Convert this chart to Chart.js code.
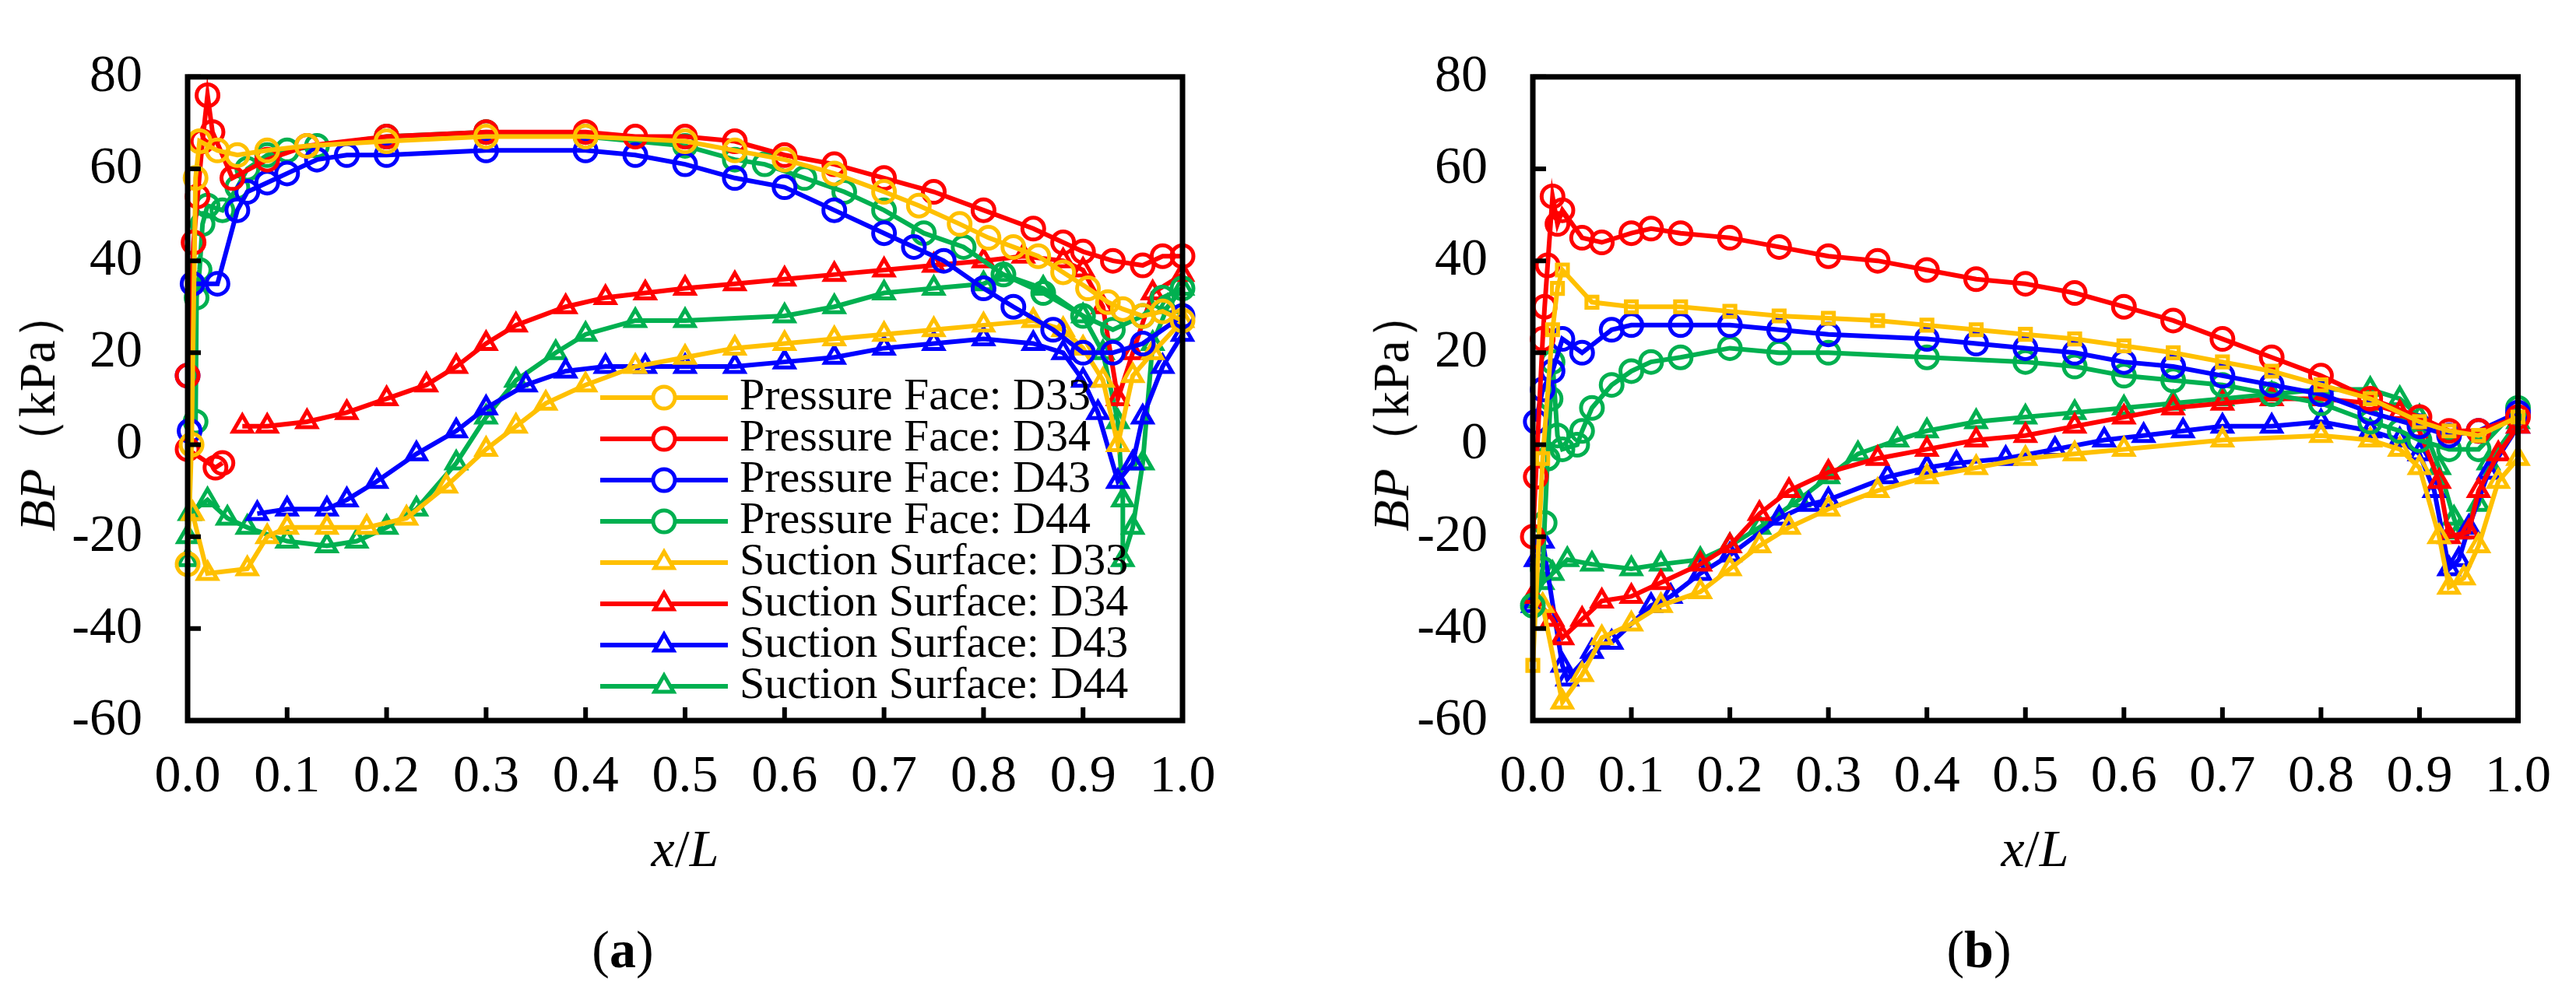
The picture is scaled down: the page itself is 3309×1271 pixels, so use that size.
<!DOCTYPE html>
<html>
<head>
<meta charset="utf-8">
<script src="https://cdn.jsdelivr.net/npm/chart.js@4/dist/chart.umd.min.js"></script>
<style>
  body { margin: 0; background: #fff; width: 3309px; height: 1271px; position: relative; overflow: hidden; font-family: "Times New Roman", "Liberation Serif", "DejaVu Serif", serif; }
  canvas { position: absolute; top: 0; }
  .lbl { position: absolute; font-size: 68px; color: #000; white-space: nowrap; transform: translate(-50%, -50%); }
  .ytitle { position: absolute; font-size: 66px; white-space: nowrap; transform: translate(-50%, -50%) rotate(-90deg); }
</style>
</head>
<body>
<canvas id="chartA" width="1660" height="1271" style="left:0"></canvas>
<canvas id="chartB" width="1649" height="1271" style="left:1660px"></canvas>

<div class="ytitle" style="left:48px; top:527px"><i>BP</i>（kPa）</div>
<div class="ytitle" style="left:1787px; top:527px"><i>BP</i>（kPa）</div>
<div class="lbl" style="left:880px; top:1090px"><i>x</i>/<i>L</i></div>
<div class="lbl" style="left:2614px; top:1090px"><i>x</i>/<i>L</i></div>
<div class="lbl" style="left:800px; top:1220px">(<b>a</b>)</div>
<div class="lbl" style="left:2542px; top:1220px">(<b>b</b>)</div>

<script>
const yTicks = [-60, -40, -20, 0, 20, 40, 60, 80];
const xTicks = [0, 0.1, 0.2, 0.3, 0.4, 0.5, 0.6, 0.7, 0.8, 0.9, 1.0];

const seriesNames = [
  'Pressure Face: D33', 'Pressure Face: D34', 'Pressure Face: D43', 'Pressure Face: D44',
  'Suction Surface: D33', 'Suction Surface: D34', 'Suction Surface: D43', 'Suction Surface: D44'
];
const seriesColors = ['#FFC000', '#FF0000', '#0000FF', '#00B050', '#FFC000', '#FF0000', '#0000FF', '#00B050'];

// panel (a): [x/L, BP]
const pfD33a = [[0,-26],[0.004,0],[0.008,58],[0.012,66],[0.03,64],[0.05,63],[0.08,64],[0.12,65],[0.2,66],[0.3,67],[0.4,67],[0.5,66],[0.55,64],[0.6,62],[0.65,59],[0.7,55],[0.735,52],[0.776,48],[0.805,45],[0.83,43],[0.855,41],[0.88,37.5],[0.905,34],[0.925,31],[0.94,29.5],[0.96,28],[0.98,29],[1.0,27]];
const pfD34a = [[0.035,-4],[0.028,-5],[0,-1],[0,15],[0.006,44],[0.01,54],[0.015,66],[0.02,76],[0.025,68],[0.045,58],[0.08,62],[0.12,65],[0.2,67],[0.3,68],[0.4,68],[0.45,67],[0.5,67],[0.55,66],[0.6,63],[0.65,61],[0.7,58],[0.75,55],[0.8,51],[0.85,47],[0.88,44],[0.9,42],[0.93,40],[0.96,39],[0.98,41],[1.0,41]];
const pfD43a = [[0,15],[0.002,3],[0.005,35],[0.03,35],[0.05,51],[0.06,55],[0.08,57],[0.1,59],[0.13,62],[0.16,63],[0.2,63],[0.3,64],[0.4,64],[0.45,63],[0.5,61],[0.55,58],[0.6,56],[0.65,51],[0.7,46],[0.73,43],[0.76,40],[0.8,34],[0.83,30],[0.87,25],[0.9,20],[0.93,20],[0.96,22],[1.0,28]];
const pfD44a = [[0.008,5],[0.009,32],[0.012,38],[0.015,48],[0.02,52],[0.035,51],[0.05,56],[0.06,60],[0.08,63],[0.1,64],[0.13,65],[0.2,67],[0.3,68],[0.4,67],[0.5,65],[0.55,62],[0.58,61],[0.62,58],[0.66,55],[0.7,51],[0.74,46],[0.78,43],[0.82,37],[0.86,33],[0.9,28],[0.93,25],[0.96,28],[0.98,32],[1.0,34]];
const ssD33a = [[0.005,-15],[0.02,-28],[0.06,-27],[0.08,-20],[0.1,-18],[0.14,-18],[0.18,-18],[0.22,-16],[0.26,-9],[0.3,-1],[0.33,4],[0.36,9],[0.4,13],[0.45,17],[0.5,19],[0.55,21],[0.6,22],[0.65,23],[0.7,24],[0.75,25],[0.8,26],[0.85,27],[0.88,25],[0.9,21],[0.92,14],[0.935,0],[0.95,15],[0.97,20],[1.0,27]];
const ssD34a = [[0.055,4],[0.08,4],[0.12,5],[0.16,7],[0.2,10],[0.24,13],[0.27,17],[0.3,22],[0.33,26],[0.38,30],[0.42,32],[0.46,33],[0.5,34],[0.55,35],[0.6,36],[0.65,37],[0.7,38],[0.75,39],[0.8,40],[0.84,41],[0.88,40],[0.9,38],[0.92,30],[0.935,10],[0.95,20],[0.97,33],[1.0,37]];
const ssD43a = [[0.07,-15],[0.1,-14],[0.14,-14],[0.16,-12],[0.19,-8],[0.23,-2],[0.27,3],[0.3,8],[0.34,13],[0.38,16],[0.42,17],[0.46,17],[0.5,17],[0.55,17],[0.6,18],[0.65,19],[0.7,21],[0.75,22],[0.8,23],[0.85,22],[0.88,20],[0.9,14],[0.915,7],[0.935,-8],[0.95,-4],[0.96,6],[0.98,17],[1.0,24]];
const ssD44a = [[0,-25],[0,-20],[0.002,-15],[0.02,-12],[0.04,-16],[0.06,-18],[0.1,-21],[0.14,-22],[0.17,-21],[0.2,-18],[0.23,-14],[0.27,-4],[0.3,6],[0.33,14],[0.37,20],[0.4,24],[0.45,27],[0.5,27],[0.6,28],[0.65,30],[0.7,33],[0.75,34],[0.8,35],[0.82,37],[0.86,34],[0.9,28],[0.92,20],[0.935,5],[0.94,-12],[0.94,-25],[0.95,-18],[0.96,-4],[0.97,22],[0.985,30],[1.0,34]];

// panel (b)
const pfD33b = [[0,-48],[0.01,-3],[0.02,25],[0.025,34],[0.03,38],[0.06,31],[0.1,30],[0.15,30],[0.2,29],[0.25,28],[0.3,27.5],[0.35,27],[0.4,26],[0.45,25],[0.5,24],[0.55,23],[0.6,21.5],[0.65,20],[0.7,18],[0.75,16],[0.8,13],[0.85,10],[0.9,5],[0.93,3],[0.96,2],[1.0,6]];
const pfD34b = [[0,-20],[0.003,-7],[0.01,23],[0.012,30],[0.015,39],[0.02,54],[0.025,48],[0.03,51],[0.05,45],[0.07,44],[0.1,46],[0.12,47],[0.15,46],[0.2,45],[0.25,43],[0.3,41],[0.35,40],[0.4,38],[0.45,36],[0.5,35],[0.55,33],[0.6,30],[0.65,27],[0.7,23],[0.75,19],[0.8,15],[0.85,10],[0.9,6],[0.93,3],[0.96,3],[1.0,6]];
const pfD43b = [[0.003,5],[0.01,12],[0.02,16],[0.03,23],[0.05,20],[0.08,25],[0.1,26],[0.15,26],[0.2,26],[0.25,25],[0.3,24],[0.4,23],[0.45,22],[0.5,21],[0.55,20],[0.6,18],[0.65,17],[0.7,15],[0.75,13],[0.8,11],[0.85,7],[0.9,4],[0.93,2],[0.96,3],[1.0,7]];
const pfD44b = [[0,-35],[0.01,-27],[0.012,-17],[0.015,-3],[0.018,10],[0.02,18],[0.025,2],[0.03,-1],[0.045,0],[0.05,3],[0.06,8],[0.08,13],[0.1,16],[0.12,18],[0.15,19],[0.2,21],[0.25,20],[0.3,20],[0.4,19],[0.5,18],[0.55,17],[0.6,15],[0.65,14],[0.7,13],[0.75,11],[0.8,9],[0.85,5],[0.88,3],[0.9,1],[0.93,-1],[0.96,-1],[1.0,8]];
const ssD33b = [[0.01,-35],[0.03,-56],[0.05,-50],[0.07,-42],[0.1,-39],[0.13,-35],[0.17,-32],[0.2,-27],[0.23,-22],[0.26,-18],[0.3,-14],[0.35,-10],[0.4,-7],[0.45,-5],[0.5,-3],[0.55,-2],[0.6,-1],[0.7,1],[0.8,2],[0.85,1],[0.88,-1],[0.9,-5],[0.92,-20],[0.93,-31],[0.945,-29],[0.96,-22],[0.98,-8],[1.0,-3]];
const ssD34b = [[0,-33],[0.02,-38],[0.03,-42],[0.05,-38],[0.07,-34],[0.1,-33],[0.13,-30],[0.17,-26],[0.2,-22],[0.23,-15],[0.26,-10],[0.3,-6],[0.35,-3],[0.4,-1],[0.45,1],[0.5,2],[0.55,4],[0.6,6],[0.65,8],[0.7,9],[0.75,10],[0.8,10],[0.85,9],[0.88,7],[0.9,3],[0.92,-8],[0.93,-20],[0.95,-19],[0.96,-10],[0.98,-2],[1.0,4]];
const ssD43b = [[0,-35],[0.003,-25],[0.01,-21],[0.03,-48],[0.035,-51],[0.06,-45],[0.08,-43],[0.12,-35],[0.14,-33],[0.17,-28],[0.2,-24],[0.25,-16],[0.28,-13],[0.3,-12],[0.36,-7],[0.4,-5],[0.43,-4],[0.48,-3],[0.53,-1],[0.58,1],[0.62,2],[0.66,3],[0.7,4],[0.75,4],[0.8,5],[0.85,3],[0.88,1],[0.9,-2],[0.915,-10],[0.93,-27],[0.94,-25],[0.95,-18],[0.97,-6],[1.0,4]];
const ssD44b = [[0,-34],[0.01,-30],[0.02,-28],[0.035,-25],[0.06,-26],[0.1,-27],[0.13,-26],[0.17,-25],[0.2,-22],[0.23,-18],[0.27,-12],[0.3,-7],[0.33,-2],[0.37,1],[0.4,3],[0.45,5],[0.5,6],[0.55,7],[0.6,8],[0.65,9],[0.7,10],[0.75,11],[0.8,12],[0.85,12],[0.88,10],[0.9,6],[0.92,-5],[0.935,-16],[0.94,-19],[0.96,-13],[0.97,-4],[1.0,5]];

const FONT = '"Times New Roman", "Liberation Serif", "DejaVu Serif", serif';

function makeDatasets(list, pfStyles) {
  return list.map((pts, i) => ({
    label: seriesNames[i],
    data: pts.map(p => ({ x: p[0], y: p[1] })),
    showLine: true,
    borderColor: seriesColors[i],
    backgroundColor: 'rgba(0,0,0,0)',
    borderWidth: 6,
    pointStyle: i < 4 ? pfStyles[i] : 'triangle',
    pointRadius: i < 4 && pfStyles[i] === 'rect' ? 10 : 14,
    pointBorderWidth: 5,
    pointBorderColor: seriesColors[i],
    pointBackgroundColor: 'rgba(0,0,0,0)',
    clip: false,
  }));
}

// frame and inward ticks
const framePlugin = {
  id: 'frame',
  afterDraw(chart) {
    const { ctx, chartArea: a, scales } = chart;
    ctx.save();
    ctx.strokeStyle = '#000';
    ctx.lineWidth = 7;
    ctx.strokeRect(a.left, a.top, a.right - a.left, a.bottom - a.top);
    ctx.lineWidth = 6;
    ctx.beginPath();
    yTicks.forEach(v => {
      const y = scales.y.getPixelForValue(v);
      ctx.moveTo(a.left, y); ctx.lineTo(a.left + 17, y);
    });
    xTicks.forEach(v => {
      const x = scales.x.getPixelForValue(v);
      ctx.moveTo(x, a.bottom); ctx.lineTo(x, a.bottom - 17);
    });
    ctx.stroke();
    ctx.restore();
  }
};

// legend inside panel (a)
const legendPlugin = {
  id: 'innerLegend',
  afterDatasetsDraw(chart, args, opts) {
    if (!opts.show) return;
    const { ctx } = chart;
    ctx.save();
    chart.data.datasets.forEach((ds, i) => {
      const y = 511 + i * 53;
      ctx.strokeStyle = ds.borderColor;
      ctx.lineWidth = 6;
      ctx.beginPath();
      ctx.moveTo(771, y); ctx.lineTo(935, y);
      ctx.stroke();
      ctx.lineWidth = 5;
      ctx.fillStyle = '#fff';
      Chart.helpers.drawPoint(ctx, { pointStyle: ds.pointStyle, radius: 14, borderWidth: 5 }, 853, y);
      ctx.fillStyle = '#000';
      ctx.font = '58px ' + FONT;
      ctx.textBaseline = 'middle';
      ctx.fillText(ds.label, 950, y);
    });
    ctx.restore();
  }
};

function makeChart(id, list, pfStyles, area, showLegend) {
  const canvas = document.getElementById(id);
  return new Chart(canvas, {
    type: 'scatter',
    data: { datasets: makeDatasets(list, pfStyles) },
    options: {
      responsive: false,
      devicePixelRatio: 1,
      animation: false,
      layout: { padding: { left: 0, top: area.top, right: canvas.width - area.right, bottom: 0 } },
      plugins: { legend: { display: false }, tooltip: { enabled: false }, innerLegend: { show: showLegend } },
      scales: {
        x: {
          type: 'linear', min: 0, max: 1,
          afterBuildTicks: s => { s.ticks = xTicks.map(v => ({ value: v })); },
          afterFit: s => { s.height = canvas.height - area.bottom; },
          grid: { display: false, drawTicks: false },
          border: { display: false },
          ticks: { padding: 32, color: '#000', font: { family: FONT, size: 68 }, callback: v => v.toFixed(1) },
        },
        y: {
          min: -60, max: 80,
          afterBuildTicks: s => { s.ticks = yTicks.map(v => ({ value: v })); },
          afterFit: s => { s.width = area.left; },
          grid: { display: false, drawTicks: false },
          border: { display: false },
          ticks: { padding: 58, color: '#000', font: { family: FONT, size: 68 } },
        },
      },
    },
    plugins: [framePlugin, legendPlugin],
  });
}

makeChart('chartA', [pfD33a, pfD34a, pfD43a, pfD44a, ssD33a, ssD34a, ssD43a, ssD44a],
  ['circle', 'circle', 'circle', 'circle'], { left: 241, right: 1519, top: 43, bottom: 926 }, true);
makeChart('chartB', [pfD33b, pfD34b, pfD43b, pfD44b, ssD33b, ssD34b, ssD43b, ssD44b],
  ['rect', 'circle', 'circle', 'circle'], { left: 309, right: 1600, top: 43, bottom: 926 }, false);
</script>
</body>
</html>
